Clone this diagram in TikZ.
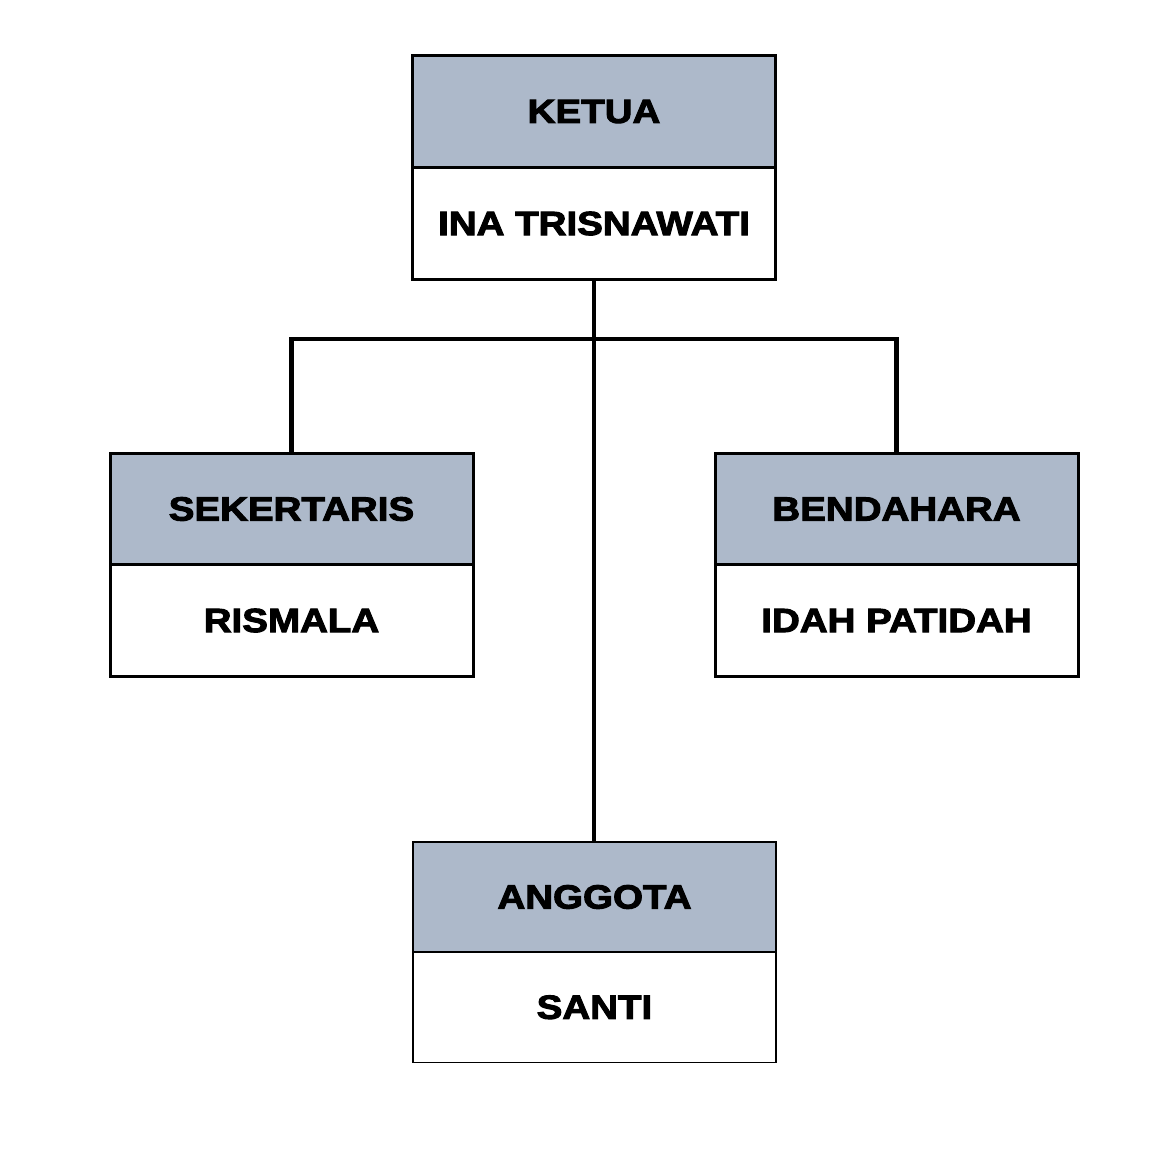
\documentclass[tikz,border=0pt]{standalone}
\usepackage{fontspec}
\newfontfamily\boxfont[FakeStretch=1.15,FakeBold=3]{Liberation Sans Bold}
\definecolor{headfill}{HTML}{ADB9CA}
\begin{document}
\begin{tikzpicture}[x=1pt,y=-1pt,
  cell/.style={rectangle,draw=black,line width=3pt,minimum width=363pt,minimum height=112pt,inner sep=0pt,outer sep=0pt,
    font=\boxfont\fontsize{33.5}{40}\selectfont},
  headcell/.style={cell,fill=headfill},
  namecell/.style={cell,fill=white},
  thin/.style={line width=1.5pt},
  link/.style={line width=4.5pt,draw=black}]
\useasboundingbox (0,0) rectangle (1164,1167);
% connectors (drawn first, boxes on top)
\coordinate (bar) at (594,339);
\coordinate (kbot) at (594,279.5);
\draw[link] (kbot) -- (594,842);
\draw[link] (291.5,453) |- (bar) -| (896.5,453);
% KETUA
\node[headcell] (ketua) at (594,111.5) {KETUA};
\node[namecell] (ina) at (594,223.5) {INA TRISNAWATI};
% SEKERTARIS
\node[headcell] (sek) at (291.5,509) {SEKERTARIS};
\node[namecell] (ris) at (291.5,620.5) {RISMALA};
% BENDAHARA
\node[headcell] (ben) at (896.5,509) {BENDAHARA};
\node[namecell] (idah) at (896.5,620.5) {IDAH PATIDAH};
% ANGGOTA
\node[headcell,thin,minimum height=110pt] (ang) at (594.5,897) {ANGGOTA};
\node[namecell,thin,minimum height=110.5pt] (santi) at (594.5,1007.25) {SANTI};
\end{tikzpicture}
\end{document}
